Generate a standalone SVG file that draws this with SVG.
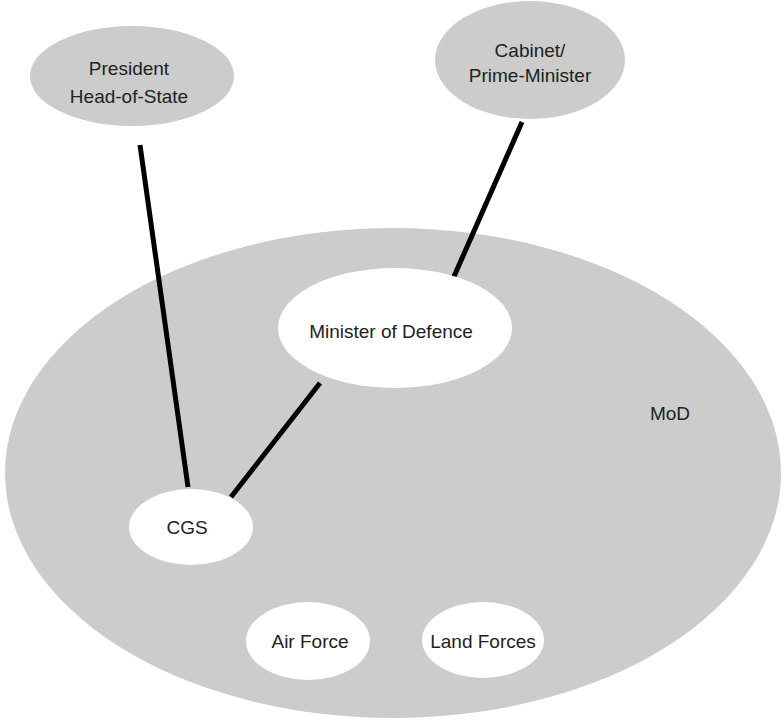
<svg xmlns="http://www.w3.org/2000/svg" width="784" height="722" viewBox="0 0 784 722">
<style>
.g{fill:#cccccc}
.w{fill:#ffffff}
.t{font-family:"Liberation Sans",Arial,sans-serif;font-size:19px;fill:#222;text-anchor:middle;dominant-baseline:central}
.c{stroke:#000;stroke-width:5;fill:none}
</style>
<rect width="784" height="722" fill="#fff"/>
<g id="mod"><ellipse class="g" cx="393" cy="473" rx="388" ry="245"/><text class="t" x="670" y="413">MoD</text></g>
<g id="president"><ellipse class="g" cx="132" cy="76" rx="102" ry="50"/><text class="t" x="129" y="68">President</text><text class="t" x="129" y="96">Head-of-State</text></g>
<g id="cabinet"><ellipse class="g" cx="530" cy="60" rx="95" ry="59"/><text class="t" x="530" y="50">Cabinet/</text><text class="t" x="530" y="75">Prime-Minister</text></g>
<g id="connectors">
<line class="c" x1="140" y1="145" x2="188" y2="487"/>
<line class="c" x1="522" y1="122" x2="452" y2="281"/>
<line class="c" x1="320" y1="383" x2="231" y2="497"/>
</g>
<g id="minister"><ellipse class="w" cx="395" cy="328" rx="117" ry="60"/><text class="t" x="391" y="331">Minister of Defence</text></g>
<g id="cgs"><ellipse class="w" cx="191" cy="527" rx="62" ry="38"/><text class="t" x="187" y="527">CGS</text></g>
<g id="airforce"><ellipse class="w" cx="308" cy="641" rx="62" ry="39"/><text class="t" x="310" y="641">Air Force</text></g>
<g id="landforces"><ellipse class="w" cx="483" cy="640" rx="61" ry="38"/><text class="t" x="483" y="641">Land Forces</text></g>
</svg>
